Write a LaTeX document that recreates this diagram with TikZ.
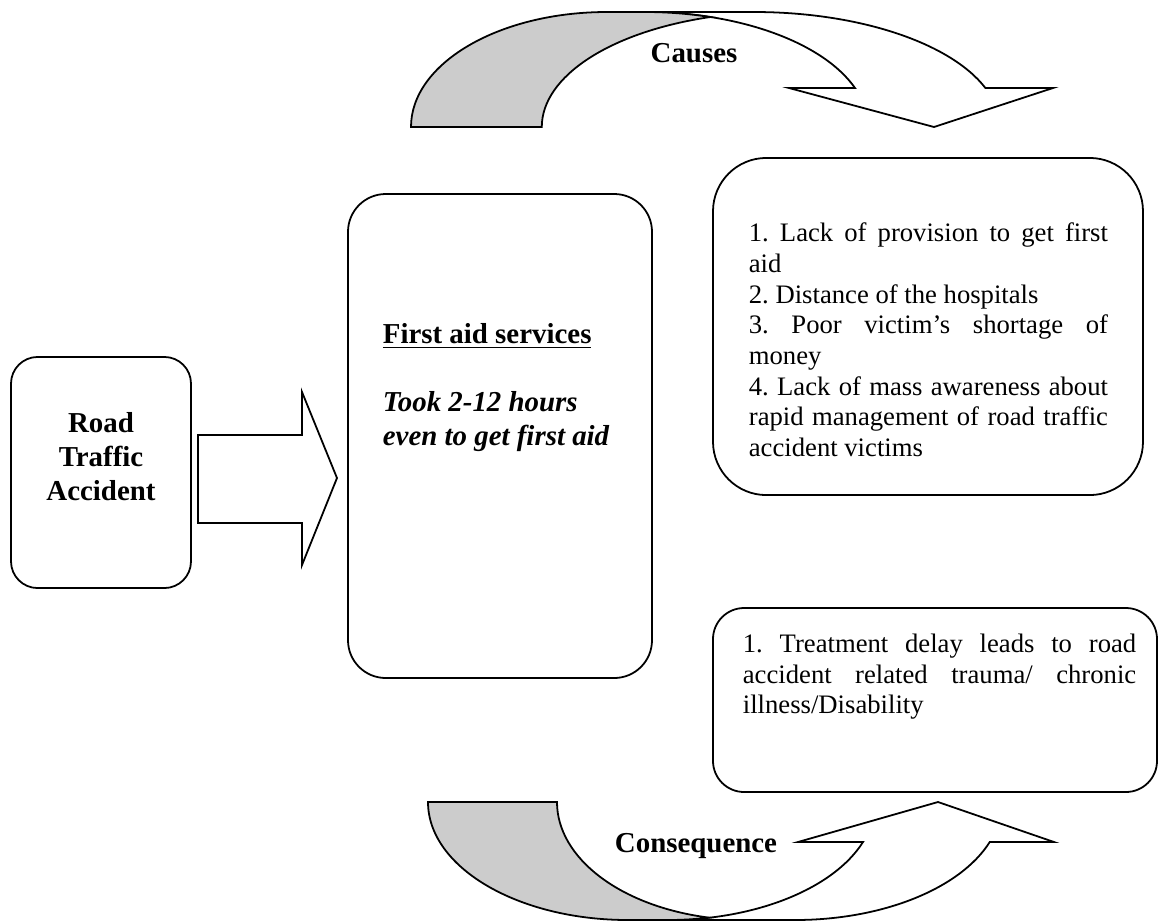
\documentclass[tikz,border=0pt]{standalone}
\usepackage{fontspec}
\setmainfont{Liberation Serif}
\setlength{\parindent}{0pt}
\frenchspacing

\begin{document}
\begin{tikzpicture}[x=0.45pt, y=-0.45pt, line width=0.8pt,
  box/.style={draw, rounded corners=#1, inner sep=0pt},
  lbl/.style={font=\fontsize{13}{15.3}\selectfont\bfseries},
  body/.style={font=\fontsize{12}{13.8}\selectfont, align=justify, inner sep=0pt, anchor=north west},
  tailpart/.style={draw, fill=black!20},
  headpart/.style={draw, fill=white}]
  \useasboundingbox (0,0) rectangle (1159,922);
  % boxes
  \node[box=12pt, minimum width=81pt, minimum height=104pt] (rta) at (101,472.5) {};
  \node[box=17pt, minimum width=136.8pt, minimum height=217.8pt] (aid) at (500,436) {};
  \node[box=24pt, minimum width=193.5pt, minimum height=151.7pt] (cause) at (928,326.5) {};
  \node[box=14pt, minimum width=199.8pt, minimum height=82.8pt] (effect) at (935,700) {};
  % block arrow from accident to first aid
  \draw (198,435) -- (302,435) -- (302,392) -- (337,478) -- (302,565) -- (302,523) -- (198,523) -- cycle;
  % curved arrow on top (causes)
  \draw[headpart] (645,12) -- (754,12) arc[start angle=270, end angle=340.2, x radius=246, y radius=115]
    -- (1053,88) -- (934,127) -- (789,88) -- (855,88)
    arc[start angle=340.2, end angle=270, x radius=223, y radius=115] -- cycle;
  \draw[tailpart] (411,127) arc[start angle=180, end angle=270, x radius=196, y radius=115]
    -- (645,12) arc[start angle=270, end angle=287, x radius=223, y radius=115]
    arc[start angle=253, end angle=180, x radius=238, y radius=115] -- cycle;
  % curved arrow at bottom (consequence)
  \draw[headpart] (668,920) -- (795,920) arc[start angle=90, end angle=19.8, x radius=207, y radius=118]
    -- (1054,842) -- (938,802) -- (798,842) -- (863,842)
    arc[start angle=19.8, end angle=90, x radius=207, y radius=118] -- cycle;
  \draw[tailpart] (428,802) -- (557,802) arc[start angle=180, end angle=101.5, x radius=190, y radius=118]
    arc[start angle=78.5, end angle=90, x radius=207, y radius=118]
    -- (628,920) arc[start angle=90, end angle=180, x radius=200, y radius=118] -- cycle;
  % texts
  \node[lbl, align=center] (rtatxt) at (101,456.5) {Road\\Traffic\\Accident};
  \node[lbl, align=left, anchor=north west, inner sep=0pt] (aidtxt) at (382,323)
    {\underline{First aid services}\\[15pt]\textit{Took 2-12 hours}\\\textit{even to get first aid}};
  \node[body, text width=161.6pt] (causetxt) at (748,222)
    {1. Lack of provision to get first\linebreak aid\par
     2. Distance of the hospitals\par
     3. Poor victim's shortage of\linebreak money\par
     4. Lack of mass awareness about\linebreak rapid management of road traffic\linebreak accident victims};
  \node[body, text width=177pt] (effecttxt) at (742,633)
    {1. Treatment delay leads to road\linebreak accident related trauma/ chronic\linebreak illness/Disability};
  \node[lbl] (causes) at (694,53) {Causes};
  \node[lbl] (conseq) at (696,846) {Consequence};
\end{tikzpicture}
\end{document}
